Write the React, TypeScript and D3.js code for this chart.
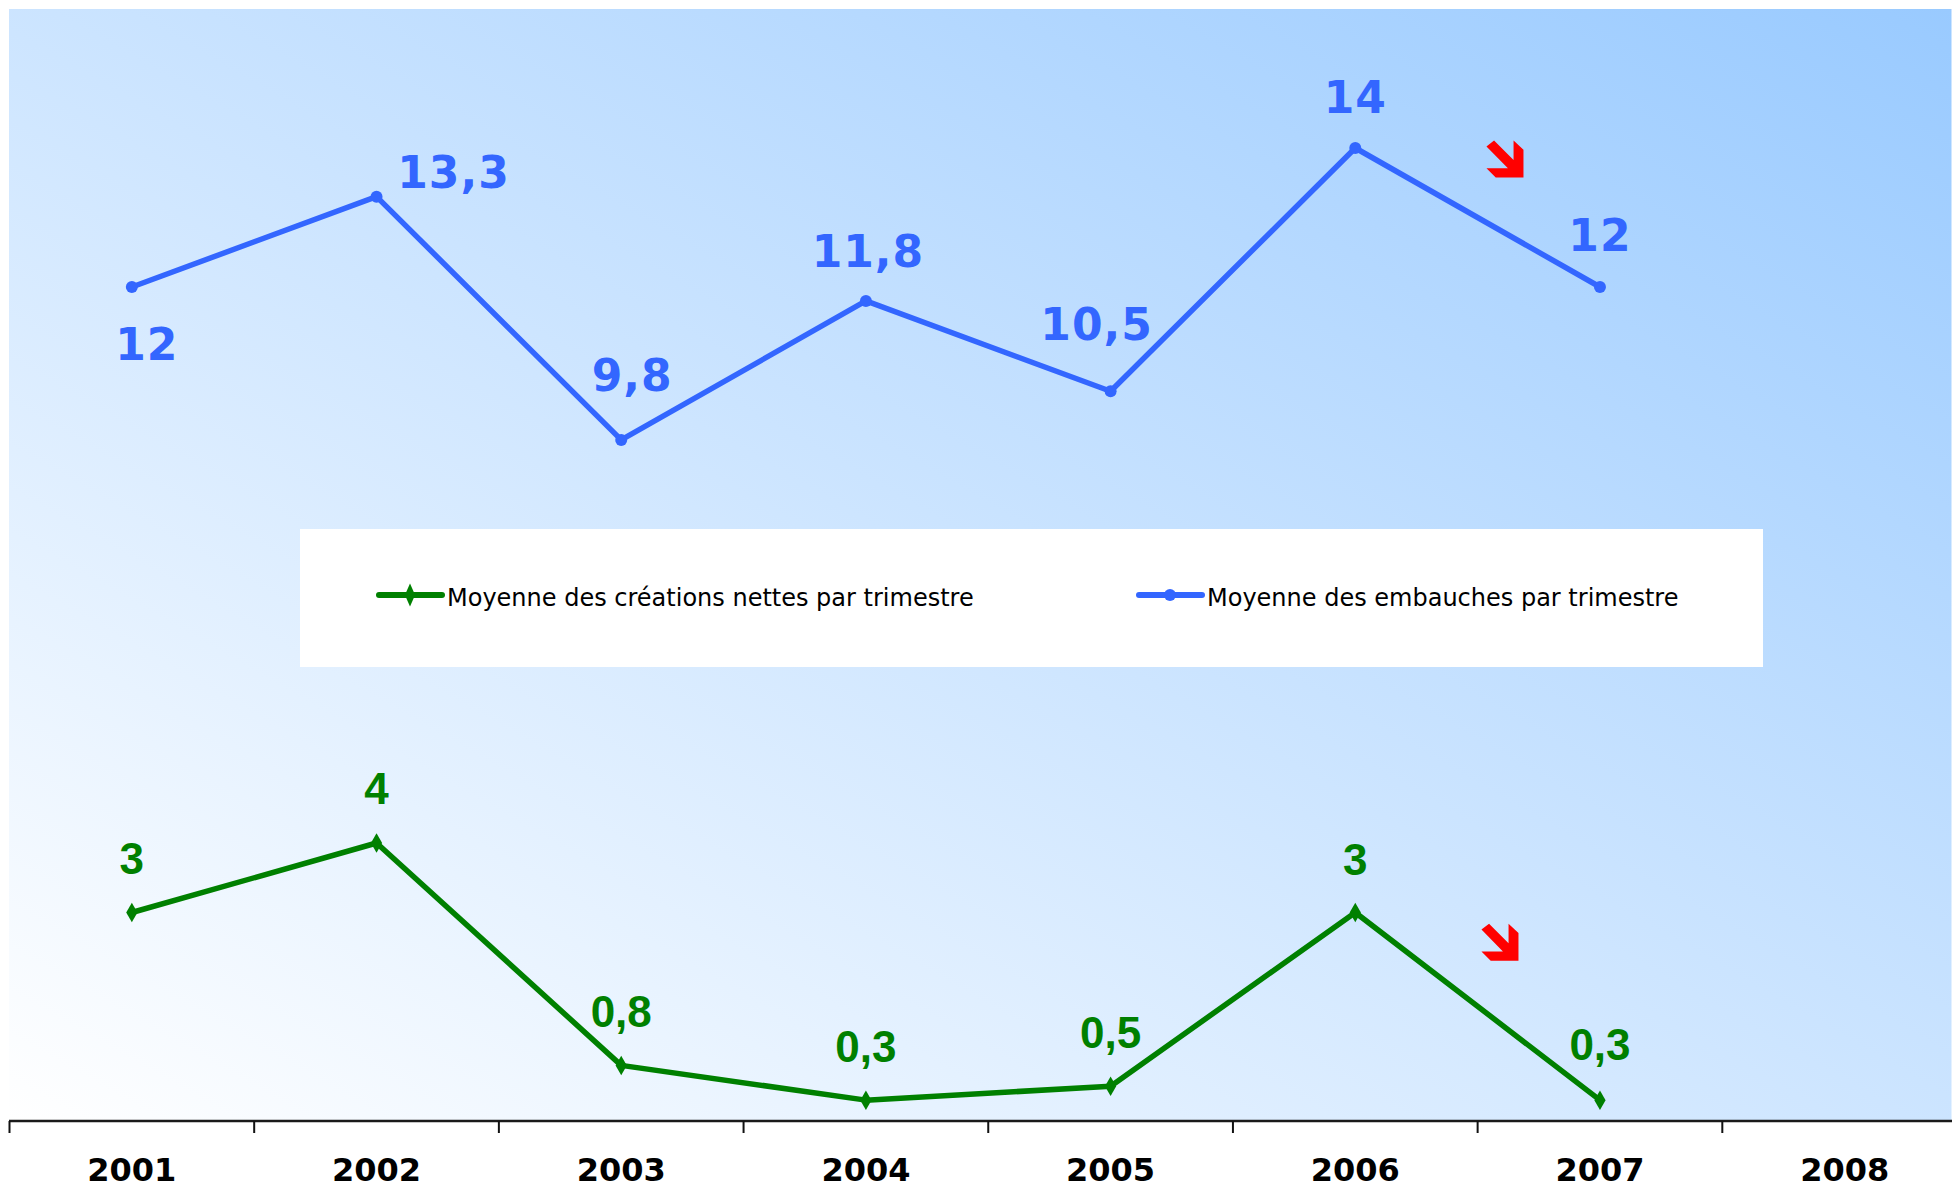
import React from 'react'
import * as d3 from 'd3'

const width = 1952
const height = 1190

// data
const years = ['2001', '2002', '2003', '2004', '2005', '2006', '2007', '2008']
const embauches = [12, 13.3, 9.8, 11.8, 10.5, 14, 12]
const creations = [3, 4, 0.8, 0.3, 0.5, 3, 0.3]
const legendLabels = ['Moyenne des créations nettes par trimestre', 'Moyenne des embauches par trimestre']

// hand-placed label offsets (dx, dy from the point), as in the original sheet
const blueLabelOffsets = [[15, 73], [77, -9], [11, -49], [2, -34], [-14, -51], [0, -35], [0, -36]]
const greenLabelOffsets = [[0, -39], [0, -39], [0, -38], [0, -38], [0, -38], [0, -38], [0, -40]]

const blue = '#3366ff'
const green = '#008000'

const plot = { left: 9.5, top: 9, right: 1967, bottom: 1121 }

const fmt = (v: number) => String(v).replace('.', ',')

// thick down-right arrow in a unit box
const arrowPts: [number, number][] = [
  [0.205, 0], [0.732, 0.53], [0.732, 0], [1, 0.25], [1, 1],
  [0.25, 1], [0, 0.75], [0.58, 0.75], [0, 0.16],
]

function Arrow({ cx, cy, size }: { cx: number, cy: number, size: number }) {
  const d = 'M' + arrowPts.map(([px, py]) => `${cx - size / 2 + px * size},${cy - size / 2 + py * size}`).join('L') + 'Z'
  return <path d={d} fill="#ff0000" />
}

export default function App() {
  const x = d3.scaleBand<string>().domain(years).range([plot.left, plot.right])
  const y = d3.scaleLinear().domain([0, 16]).range([plot.bottom, plot.top])
  const cx = (i: number) => x(years[i])! + x.bandwidth() / 2

  const line = d3.line<number>().x((_, i) => cx(i)).y(v => y(v))
  const diamond = d3.symbol(d3.symbolDiamond, 110)()!
  const legendDiamond = d3.symbol(d3.symbolDiamond, 90)()!

  const tickXs = years.map(yr => x(yr)!).concat([plot.right])

  const last = embauches.length - 1

  return (
    <svg width={width} height={height} style={{ position: 'absolute', left: 0, top: 0, display: 'block' }}>
      <defs>
        <linearGradient id="bg" x1="0" y1="1" x2="1" y2="0">
          <stop offset="0" stopColor="#ffffff" />
          <stop offset="1" stopColor="#99caff" />
        </linearGradient>
      </defs>
      <rect width={width} height={height} fill="#fff" />
      <rect x={plot.left - 0.5} y={plot.top} width={width - plot.left} height={plot.bottom - plot.top} fill="url(#bg)" />

      {/* axis */}
      <line x1={plot.left - 0.5} x2={width} y1={plot.bottom} y2={plot.bottom} stroke="#1a1a1a" strokeWidth={2.5} />
      {tickXs.map((tx, i) => (
        <line key={i} x1={tx} x2={tx} y1={plot.bottom} y2={plot.bottom + 12} stroke="#111" strokeWidth={2} />
      ))}
      {years.map(yr => (
        <text key={yr} x={x(yr)! + x.bandwidth() / 2} y={1181} textAnchor="middle"
          fontFamily="DejaVu Sans" fontWeight="bold" fontSize={32} fill="#000">{yr}</text>
      ))}

      {/* embauches */}
      <path d={line(embauches)!} fill="none" stroke={blue} strokeWidth={5.5} strokeLinejoin="round" />
      {embauches.map((v, i) => (
        <circle key={i} cx={cx(i)} cy={y(v)} r={6} fill={blue} />
      ))}
      {embauches.map((v, i) => (
        <text key={i} x={cx(i) + blueLabelOffsets[i][0]} y={y(v) + blueLabelOffsets[i][1]} textAnchor="middle"
          fontFamily="DejaVu Sans" fontWeight="bold" fontSize={44} letterSpacing={1} fill={blue}>{fmt(v)}</text>
      ))}

      {/* créations nettes */}
      <path d={line(creations)!} fill="none" stroke={green} strokeWidth={5.5} strokeLinejoin="round" />
      {creations.map((v, i) => (
        <path key={i} d={diamond} transform={`translate(${cx(i)},${y(v)})`} fill={green} />
      ))}
      {creations.map((v, i) => (
        <text key={i} x={cx(i) + greenLabelOffsets[i][0]} y={y(v) + greenLabelOffsets[i][1]} textAnchor="middle"
          fontFamily="Liberation Sans" fontWeight="bold" fontSize={44} fill={green}>{fmt(v)}</text>
      ))}

      {/* trend arrows */}
      <Arrow cx={cx(last) - 95} cy={y(embauches[last]) - 128} size={37} />
      <Arrow cx={cx(last) - 100} cy={y(creations[last]) - 158} size={37} />

      {/* legend */}
      <rect x={300} y={529} width={1463} height={138} fill="#fff" />
      {[green, blue].map((c, i) => {
        const lx = i === 0 ? 379 : 1139
        return (
          <g key={i}>
            <line x1={lx} x2={lx + 63} y1={595} y2={595} stroke={c} strokeWidth={6} strokeLinecap="round" />
            {i === 0
              ? <path d={legendDiamond} transform={`translate(${lx + 31},595) scale(1,1.3)`} fill={c} />
              : <circle cx={lx + 31} cy={595} r={6} fill={c} />}
            <text x={lx + 68} y={606} fontFamily="DejaVu Sans" fontSize={24} fill="#000">{legendLabels[i]}</text>
          </g>
        )
      })}
    </svg>
  )
}
